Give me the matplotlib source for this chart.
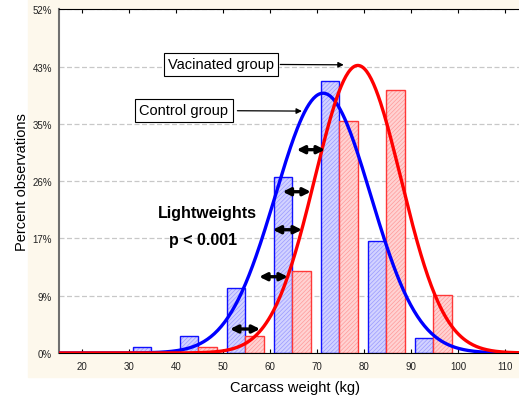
import numpy as np
import matplotlib
matplotlib.use('Agg')
import matplotlib.pyplot as plt
from matplotlib.patches import Rectangle

plt.rcParams['font.family'] = ['Liberation Sans', 'DejaVu Sans']
plt.rcParams['hatch.linewidth'] = 0.5

# histogram bins (lower edge, kg) and percent of observations
bin_lo = [30, 40, 50, 60, 70, 80, 90]
control_pct = [0.86, 2.5, 9.9, 26.6, 41.1, 16.9, 2.2]
vaccinated_pct = [0.0, 0.86, 2.5, 12.45, 35.1, 39.8, 8.77]

# fitted normal curves (mean, sd), bin width 10 kg
control_fit = (71.3, 10.15)
vaccinated_fit = (78.7, 9.17)
bin_width = 10

yticks_lbl = ['0%', '9%', '17%', '26%', '35%', '43%', '52%']
xticks = [20, 30, 40, 50, 60, 70, 80, 90, 100, 110]

# double arrows: (y, x_left, x_right)
gaps = [(30.76, 65.7, 71.7), (24.4, 62.7, 68.7), (18.65, 60.6, 66.8),
        (11.54, 57.7, 63.8), (3.63, 51.5, 57.9)]

fig = plt.figure(figsize=(5.19, 4.02), dpi=100)
fig.patches.append(Rectangle((28/519, 24/402), 1 - 28/519, 1 - 24/402,
                             transform=fig.transFigure, color='#fdf8ec', zorder=-1))
ax = fig.add_axes([59/519, 48/402, 1 - 59/519, (354 - 10.3)/402])

lo = np.array(bin_lo, dtype=float)
# blue = control, red = vaccinated
ax.bar(lo + 0.85, control_pct, width=3.9, align='edge', facecolor='#d2d2ff',
       edgecolor='#9a9aff', hatch='////////', linewidth=0, zorder=2)
ax.bar(lo + 0.85, control_pct, width=3.9, align='edge', fill=False,
       edgecolor='#1010ff', linewidth=1, zorder=2)
ax.bar(lo + 4.75, vaccinated_pct, width=3.9, align='edge', facecolor='#ffd2d2',
       edgecolor='#ff9a9a', hatch='////////', linewidth=0, zorder=2)
ax.bar(lo + 4.75, vaccinated_pct, width=3.9, align='edge', fill=False,
       edgecolor='#ff3838', linewidth=1, zorder=2)

xs = np.linspace(15, 113, 400)
for (m, s), c in [(control_fit, '#0000ff'), (vaccinated_fit, '#ff0000')]:
    ys = 100 * bin_width * np.exp(-0.5 * ((xs - m) / s) ** 2) / (s * np.sqrt(2 * np.pi))
    ax.plot(xs, ys, color=c, lw=2.4, zorder=3)

for y, x0, x1 in gaps:
    ax.annotate('', xy=(x1, y), xytext=(x0, y),
                arrowprops=dict(arrowstyle='<|-|>', color='k', lw=2.4,
                                mutation_scale=11, shrinkA=0, shrinkB=0), zorder=4)

box = dict(boxstyle='square,pad=0.3', fc='white', ec='black', lw=0.8)
ax.annotate('Vacinated group', xy=(75.7, 43.6), xytext=(49.6, 43.7),
            ha='center', va='center', fontsize=10.5, bbox=box, zorder=5,
            arrowprops=dict(arrowstyle='-|>', color='k', lw=0.9,
                            mutation_scale=8, shrinkA=1, shrinkB=0))
ax.annotate('Control group', xy=(66.8, 36.6), xytext=(41.7, 36.7),
            ha='center', va='center', fontsize=10.5, bbox=box, zorder=5,
            arrowprops=dict(arrowstyle='-|>', color='k', lw=0.9,
                            mutation_scale=8, shrinkA=3, shrinkB=0))

ax.text(46.6, 21.2, 'Lightweights', ha='center', va='center',
        fontsize=11.5, fontweight='bold', zorder=5)
ax.text(45.8, 17.2, 'p < 0.001', ha='center', va='center',
        fontsize=11.5, fontweight='bold', zorder=5)

ax.set_xlim(15.1, 113)
ax.set_ylim(0, 52)
ax.set_xticks(xticks)
ax.set_yticks(np.arange(7) * 52 / 6)
ax.set_yticklabels(yticks_lbl)
ax.tick_params(axis='x', direction='in', top=True, length=3, pad=6,
               labelsize=7, labelcolor='#222222')
ax.tick_params(axis='y', length=0, pad=5, labelsize=7, labelcolor='#222222')
ax.yaxis.grid(True, color='#c8c8c8', linestyle=(0, (4, 2)), lw=0.9)
ax.set_axisbelow(True)
ax.spines['right'].set_visible(False)
ax.spines['left'].set_color('#707070')
ax.spines['left'].set_linewidth(1.5)

fig.text(295/519, 1 - 388/402, 'Carcass weight (kg)', ha='center', va='center', fontsize=10.5)
fig.text(22/519, 1 - 182/402, 'Percent observations', ha='center', va='center',
         rotation=90, fontsize=10.5)

fig.savefig('out.png', dpi=100)
